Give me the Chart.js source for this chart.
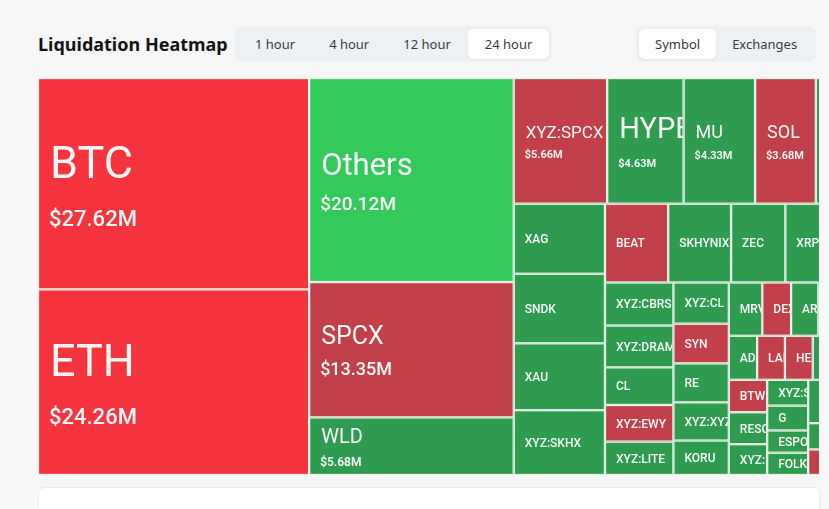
<!DOCTYPE html>
<html>
<head>
<meta charset="utf-8">
<script src="https://cdn.jsdelivr.net/npm/chart.js@4.4.1/dist/chart.umd.min.js"></script>
<style>
  body { margin: 0; background: #f7f7f8; font-family: "Noto Sans", sans-serif; }
  .title { position: absolute; left: 38px; top: 30px; font-size: 18px; font-weight: 700; color: #141414; line-height: 28px; }
  .tabs { position: absolute; top: 26px; height: 36px; box-sizing: border-box; padding: 3px; background: #eef1f4; border-radius: 8px; display: flex; }
  .tabs span { display: block; height: 30px; line-height: 30px; padding: 0 17px; font-size: 13px; color: #3b3b3b; border-radius: 6px; }
  .tabs.right span { padding: 0 16px; }
  .tabs span.on { background: #fff; box-shadow: 0 1px 2px rgba(0,0,0,0.06); }
  #clip { position: absolute; left: 38px; top: 78px; width: 781px; height: 397px; overflow: hidden; }
  #box { width: 829px; height: 397px; position: relative; }
  .card { position: absolute; left: 38px; top: 487px; width: 780px; height: 40px; background: #fff; border: 1px solid #ebebeb; border-radius: 6px; }
</style>
</head>
<body>
<div class="title">Liquidation Heatmap</div>
<div class="tabs" style="left:235px"><span>1 hour</span><span>4 hour</span><span>12 hour</span><span class="on">24 hour</span></div>
<div class="tabs right" style="left:636px"><span class="on">Symbol</span><span>Exchanges</span></div>
<div id="clip"><div id="box"><canvas id="heat"></canvas></div></div>
<div class="card"></div>
<script>
// liquidations, $M. empty names = cells that sit past the cut right edge
const symbols = ['BTC', 'ETH', 'Others', 'SPCX', 'WLD', 'XYZ:SPCX', 'HYPE', 'MU', 'SOL', '',
  'XAG', 'SNDK', 'XAU', 'XYZ:SKHX', 'BEAT', 'SKHYNIX', 'ZEC', 'XRP', '',
  'XYZ:CBRS', 'XYZ:DRAM', 'CL', 'XYZ:EWY', 'XYZ:LITE', 'XYZ:CL', 'SYN', 'RE', 'XYZ:XYZ100', 'KORU',
  'MRVL', 'DEXE', 'ARB', '', '',
  'ADA', 'LAB', 'HEMI', '', '',
  'BTW', 'RESOLV', 'XYZ:MSTR', 'XYZ:SILVER', 'G', 'ESPORTS', 'FOLKS',
  '', '', '', '', '', '', ''];
const liqValues = [27.62, 24.26, 20.12, 13.35, 5.68, 5.66, 4.63, 4.33, 3.68, 3.10,
  3.08, 3.06, 2.94, 2.85, 2.40, 2.39, 2.06, 1.60, 1.50,
  1.42, 1.38, 1.24, 1.21, 1.10, 1.10, 1.06, 1.04, 1.02, 0.92,
  0.86, 0.74, 0.70, 0.64, 0.61,
  0.60, 0.59, 0.59, 0.58, 0.57,
  0.60, 0.59, 0.57, 0.51, 0.49, 0.44, 0.44,
  0.42, 0.41, 0.40, 0.38, 0.37, 0.36, 0.36];
// L = long liquidations (red), S = short (green)
const sides = ['L', 'L', 'S', 'L', 'S', 'L', 'S', 'S', 'L', 'S',
  'S', 'S', 'S', 'S', 'L', 'S', 'S', 'S', 'S',
  'S', 'S', 'S', 'L', 'S', 'S', 'L', 'S', 'S', 'S',
  'S', 'L', 'S', 'S', 'S',
  'S', 'L', 'L', 'S', 'S',
  'L', 'S', 'S', 'S', 'S', 'S', 'S',
  'S', 'L', 'S', 'S', 'L', 'S', 'S'];

const MAP_W = 829, MAP_H = 397;

const colors = { L: ['#f5343e', '#c1404a'], S: ['#33c95b', '#2f9b4f'] };
// name / value font px for the cells big enough to show the amount
const bigLabels = { BTC: [45, 22], ETH: [45, 22], Others: [31, 19], SPCX: [25, 18], WLD: [20, 12],
  'XYZ:SPCX': [17, 11], HYPE: [29, 11], MU: [18, 11], SOL: [18, 11] };

// squarified layout, same steps as d3.treemapSquarify
function squarify(values, x0, y0, x1, y1) {
  const ratio = (1 + Math.sqrt(5)) / 2;
  const boxes = [];
  let value = values.reduce((a, b) => a + b, 0);
  let i0 = 0, i1 = 0;
  const n = values.length;
  while (i0 < n) {
    const dx = x1 - x0, dy = y1 - y0;
    let sum = values[i1++];
    let minV = sum, maxV = sum;
    const alpha = Math.max(dy / dx, dx / dy) / (value * ratio);
    let beta = sum * sum * alpha;
    let minRatio = Math.max(maxV / beta, beta / minV);
    for (; i1 < n; i1++) {
      const v = values[i1];
      sum += v;
      if (v < minV) minV = v;
      if (v > maxV) maxV = v;
      beta = sum * sum * alpha;
      const r = Math.max(maxV / beta, beta / minV);
      if (r > minRatio) { sum -= v; break; }
      minRatio = r;
    }
    if (dx < dy) {
      const yb = i1 >= n ? y1 : y0 + dy * sum / value;
      let x = x0;
      for (let i = i0; i < i1; i++) {
        const w = dx * values[i] / sum;
        boxes[i] = { x0: x, y0: y0, x1: x + w, y1: yb };
        x += w;
      }
      y0 = yb;
    } else {
      const xb = i1 >= n ? x1 : x0 + dx * sum / value;
      let y = y0;
      for (let i = i0; i < i1; i++) {
        const h = dy * values[i] / sum;
        boxes[i] = { x0: x0, y0: y, x1: xb, y1: y + h };
        y += h;
      }
      x0 = xb;
    }
    value -= sum;
    i0 = i1;
  }
  return boxes;
}

const treemapCells = {
  id: 'treemapCells',
  afterDatasetsDraw(chart) {
    const { ctx } = chart;
    const xs = chart.scales.x, ys = chart.scales.y;
    const boxes = squarify(liqValues, 0, 0, MAP_W, MAP_H);

    boxes.forEach((b, i) => {
      const left = xs.getPixelForValue(b.x0), right = xs.getPixelForValue(b.x1);
      const top = ys.getPixelForValue(b.y0), bottom = ys.getPixelForValue(b.y1);
      const w = right - left, h = bottom - top;
      const bright = liqValues[i] >= 15 ? 0 : 1;

      ctx.save();
      ctx.fillStyle = colors[sides[i]][bright];
      ctx.fillRect(left, top, w, h);
      ctx.strokeStyle = '#e8f4e9';
      ctx.lineWidth = 1.3;
      ctx.strokeRect(left + 0.5, top + 0.5, w - 1, h - 1);

      const name = symbols[i];
      if (name) {
        ctx.beginPath();
        ctx.rect(left + 1, top + 1, w - 2, h - 2);
        ctx.clip();
        ctx.fillStyle = 'rgba(255,255,255,0.96)';
        ctx.textAlign = 'left';
        ctx.textBaseline = 'alphabetic';
        const cy = (top + bottom) / 2;
        if (w * h > 7000) {
          const [ns, vs] = bigLabels[name] || [16, 11];
          const capN = ns * 0.71, capV = vs * 0.71, gap = ns * 0.72;
          const y0 = cy - (capN + gap + capV) / 2 + ns * 0.05;
          ctx.font = `400 ${ns}px Roboto`;
          ctx.fillText(name, left + 12, y0 + capN);
          ctx.font = `${vs <= 12 ? 600 : 500} ${vs}px Roboto`;
          ctx.fillText('$' + liqValues[i].toFixed(2) + 'M', left + 11, y0 + capN + gap + capV);
        } else {
          ctx.font = '500 12px Roboto';
          ctx.fillText(name, left + 11, cy + 4.3);
        }
      }
      ctx.restore();
    });
  }
};

new Chart(document.getElementById('heat'), {
  type: 'scatter',
  data: { datasets: [{ data: [], pointRadius: 0 }] },
  options: {
    responsive: true,
    maintainAspectRatio: false,
    animation: false,
    layout: { padding: 0 },
    plugins: { legend: { display: false }, tooltip: { enabled: false } },
    scales: {
      x: { type: 'linear', min: 0, max: MAP_W, display: false },
      y: { type: 'linear', min: 0, max: MAP_H, reverse: true, display: false }
    }
  },
  plugins: [treemapCells]
});
</script>
</body>
</html>
